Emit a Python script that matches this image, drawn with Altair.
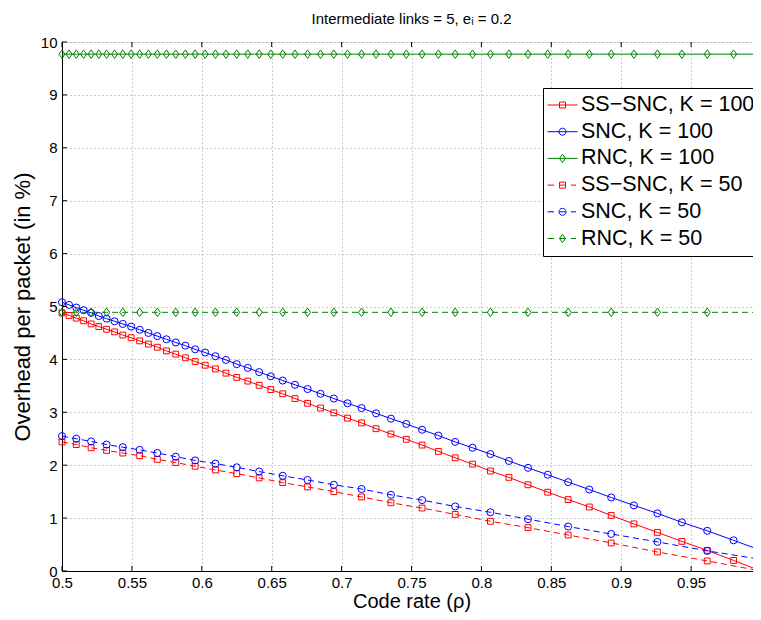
import altair as alt
import pandas as pd

# ---------------- data ----------------
rho_k100 = [0.5, 0.50505, 0.5102, 0.51546, 0.52083, 0.52632, 0.53191, 0.53763, 0.54348, 0.54945,
            0.55556, 0.5618, 0.56818, 0.57471, 0.5814, 0.58824, 0.59524, 0.60241, 0.60976, 0.61728,
            0.625, 0.63291, 0.64103, 0.64935, 0.65789, 0.66667, 0.67568, 0.68493, 0.69444, 0.70423,
            0.71429, 0.72464, 0.73529, 0.74627, 0.75758, 0.76923, 0.78125, 0.79365, 0.80645,
            0.81967, 0.83333, 0.84746, 0.86207, 0.87719, 0.89286, 0.90909, 0.92593, 0.9434, 0.96154, 0.98039,
            1.0]
ss_snc_k100 = [4.88, 4.83, 4.78, 4.73, 4.67, 4.62, 4.57, 4.52, 4.46, 4.41,
               4.35, 4.29, 4.23, 4.16, 4.10, 4.03, 3.96, 3.89, 3.82, 3.74,
               3.66, 3.59, 3.51, 3.43, 3.35, 3.26, 3.17, 3.08, 2.99, 2.89,
               2.80, 2.69, 2.59, 2.49, 2.38, 2.26, 2.14, 2.02, 1.89,
               1.77, 1.63, 1.49, 1.35, 1.21, 1.05, 0.89, 0.73, 0.56, 0.39, 0.20,
               0.00]
snc_k100 = [5.08, 5.03, 4.98, 4.93, 4.88, 4.82, 4.77, 4.72, 4.67, 4.62,
            4.56, 4.50, 4.44, 4.38, 4.32, 4.26, 4.19, 4.13, 4.06, 3.99,
            3.91, 3.84, 3.76, 3.68, 3.60, 3.52, 3.44, 3.35, 3.26, 3.17,
            3.08, 2.98, 2.88, 2.78, 2.67, 2.56, 2.44, 2.33, 2.21,
            2.08, 1.95, 1.82, 1.68, 1.54, 1.39, 1.24, 1.09, 0.92, 0.76, 0.58,
            0.39]
rnc_k100 = [9.77, 9.77, 9.77, 9.77, 9.77, 9.77, 9.77, 9.77, 9.77, 9.77,
            9.77, 9.77, 9.77, 9.77, 9.77, 9.77, 9.77, 9.77, 9.77, 9.77,
            9.77, 9.77, 9.77, 9.77, 9.77, 9.77, 9.77, 9.77, 9.77, 9.77,
            9.77, 9.77, 9.77, 9.77, 9.77, 9.77, 9.77, 9.77, 9.77,
            9.77, 9.77, 9.77, 9.77, 9.77, 9.77, 9.77, 9.77, 9.77, 9.77, 9.77,
            9.77]

rho_k50 = [0.5, 0.5102, 0.52083, 0.53191, 0.54348, 0.55556, 0.56818, 0.5814, 0.59524, 0.60976,
           0.625, 0.64103, 0.65789, 0.67568, 0.69444, 0.71429, 0.73529, 0.75758, 0.78125, 0.80645,
           0.83333, 0.86207, 0.89286, 0.92593, 0.96154, 1.0]
ss_snc_k50 = [2.44, 2.39, 2.33, 2.28, 2.23, 2.18, 2.11, 2.05, 1.98, 1.91,
              1.84, 1.76, 1.67, 1.59, 1.50, 1.40, 1.29, 1.19, 1.07, 0.94,
              0.82, 0.68, 0.53, 0.36, 0.19, 0.00]
snc_k50 = [2.55, 2.50, 2.45, 2.39, 2.34, 2.29, 2.23, 2.16, 2.09, 2.03,
           1.96, 1.88, 1.80, 1.72, 1.63, 1.55, 1.44, 1.34, 1.22, 1.11,
           0.98, 0.84, 0.70, 0.55, 0.38, 0.22]
rnc_k50 = [4.89, 4.89, 4.89, 4.89, 4.89, 4.89, 4.89, 4.89, 4.89, 4.89,
           4.89, 4.89, 4.89, 4.89, 4.89, 4.89, 4.89, 4.89, 4.89, 4.89,
           4.89, 4.89, 4.89, 4.89, 4.89, 4.89]

series_names = ["SS\u2212SNC, K = 100", "SNC, K = 100", "RNC, K = 100",
                "SS\u2212SNC, K = 50", "SNC, K = 50", "RNC, K = 50"]
series_colors = ["#ff0000", "#0000ff", "#008000", "#ff0000", "#0000ff", "#008000"]

x_ticks = [0.5, 0.55, 0.6, 0.65, 0.7, 0.75, 0.8, 0.85, 0.9, 0.95]
y_ticks = [0, 1, 2, 3, 4, 5, 6, 7, 8, 9, 10]

# ---------------- styling ----------------
FONT = "Liberation Sans"
W, H = 699, 529
DIAMOND = "M0,-1L0.72,0L0,1L-0.72,0Z"
marker_shape = {"SS": "square", "SNC": "circle", "RNC": DIAMOND}
marker_size = {"SS": 34, "SNC": 50, "RNC": 72}

SQ = "M-0.2,-0.2H0.2V0.2H-0.2Z"
CI = "M0.233,0A0.233,0.233,0,1,1,-0.233,0A0.233,0.233,0,1,1,0.233,0Z"
DI = "M0,-0.28L0.2,0L0,0.28L-0.2,0Z"
SOLID = "M-1,0H1"
DASHED = "M-1,0H-0.56M-0.2,0H0.2M0.56,0H0.9"
legend_paths = [SOLID + SQ, SOLID + CI, SOLID + DI, DASHED + SQ, DASHED + CI, DASHED + DI]

rows = []
def add(name, kind, k, xs, ys):
    for xv, yv in zip(xs, ys):
        rows.append({"series": name, "K": k, "rho": xv, "overhead": yv,
                     "marker": marker_shape[kind], "msize": marker_size[kind]})

add(series_names[0], "SS", 100, rho_k100, ss_snc_k100)
add(series_names[1], "SNC", 100, rho_k100, snc_k100)
add(series_names[2], "RNC", 100, rho_k100, rnc_k100)
add(series_names[3], "SS", 50, rho_k50, ss_snc_k50)
add(series_names[4], "SNC", 50, rho_k50, snc_k50)
add(series_names[5], "RNC", 50, rho_k50, rnc_k50)
df = pd.DataFrame(rows)

xscale = alt.Scale(domain=[0.5, 1.0], nice=False, zero=False)
yscale = alt.Scale(domain=[0, 10], nice=False)
cscale = alt.Scale(domain=series_names, range=series_colors)

X = alt.X("rho:Q", scale=xscale,
          axis=alt.Axis(title="Code rate (\u03c1)", values=x_ticks, format="~g",
                        grid=True, gridDash=[1, 3], gridColor="#999999",
                        ticks=False, labelPadding=4, titlePadding=1,
                        domainColor="black", labelFontSize=15, titleFontSize=20,
                        labelFont=FONT, titleFont=FONT, labelColor="black",
                        titleColor="black", titleFontWeight="normal",
                        labelFlush=False))
Y = alt.Y("overhead:Q", scale=yscale,
          axis=alt.Axis(title="Overhead per packet (in %)", values=y_ticks,
                        grid=True, gridDash=[1, 3], gridColor="#999999",
                        ticks=False, labelPadding=5, titlePadding=6,
                        domainColor="black", labelFontSize=15, titleFontSize=22,
                        labelFont=FONT, titleFont=FONT, labelColor="black",
                        titleColor="black", titleFontWeight="normal",
                        labelFlush=False))

base = alt.Chart(df)

solid = base.transform_filter(alt.datum.K == 100).mark_line(strokeWidth=1).encode(
    x=X, y=Y, color=alt.Color("series:N", scale=cscale, legend=None), detail="series:N")
dashed = base.transform_filter(alt.datum.K == 50).mark_line(strokeWidth=1, strokeDash=[6, 4]).encode(
    x=X, y=Y, color=alt.Color("series:N", scale=cscale, legend=None), detail="series:N")
points = base.mark_point(filled=False, strokeWidth=1, opacity=1).encode(
    x=X, y=Y,
    color=alt.Color("series:N", scale=cscale, legend=None),
    shape=alt.Shape("marker:N", scale=None),
    size=alt.Size("msize:Q", scale=None))

leg = alt.Legend(title=None, orient="none", legendX=481, legendY=46,
                 symbolSize=900, symbolStrokeWidth=1, symbolOpacity=1,
                 labelFontSize=21.5, labelFont=FONT, labelColor="black",
                 padding=4, strokeColor="black", fillColor="white",
                 clipHeight=26, rowPadding=0.7, labelOffset=3, labelLimit=400)
# legend-only layer: no rows reach the plot, the legend entries come from the scale domain
legend_layer = base.transform_filter(alt.datum.K < 0).mark_point(filled=False).encode(
    x=X, y=Y,
    color=alt.Color("series:N", scale=cscale, legend=leg),
    shape=alt.Shape("series:N", scale=alt.Scale(domain=series_names, range=legend_paths), legend=leg))

xt = pd.DataFrame({"t": x_ticks})
yt = pd.DataFrame({"t": y_ticks})
tick_b = alt.Chart(xt).mark_rule(color="black", strokeWidth=1).encode(
    x=alt.X("t:Q", scale=xscale), y=alt.value(H), y2=alt.value(H - 5))
tick_t = alt.Chart(xt).mark_rule(color="black", strokeWidth=1).encode(
    x=alt.X("t:Q", scale=xscale), y=alt.value(0), y2=alt.value(5))
tick_l = alt.Chart(yt).mark_rule(color="black", strokeWidth=1).encode(
    y=alt.Y("t:Q", scale=yscale), x=alt.value(0), x2=alt.value(5))
tick_r = alt.Chart(yt).mark_rule(color="black", strokeWidth=1).encode(
    y=alt.Y("t:Q", scale=yscale), x=alt.value(W), x2=alt.value(W - 5))

chart = alt.layer(solid, dashed, points, legend_layer, tick_b, tick_t, tick_l, tick_r).resolve_legend(
    color="independent", shape="independent"
).properties(
    width=W, height=H,
    title=alt.TitleParams("Intermediate links = 5, e\u1d62 = 0.2", fontSize=15, font=FONT,
                          fontWeight="normal", color="black", anchor="middle", frame="group",
                          offset=8),
    autosize=alt.AutoSizeParams(type="none"),
    padding={"left": 54, "top": 34, "right": -8, "bottom": 41},
).configure_view(stroke="black", strokeWidth=1).configure(background="white")

chart.save("out.html", embed_options={"renderer": "svg", "actions": False})
